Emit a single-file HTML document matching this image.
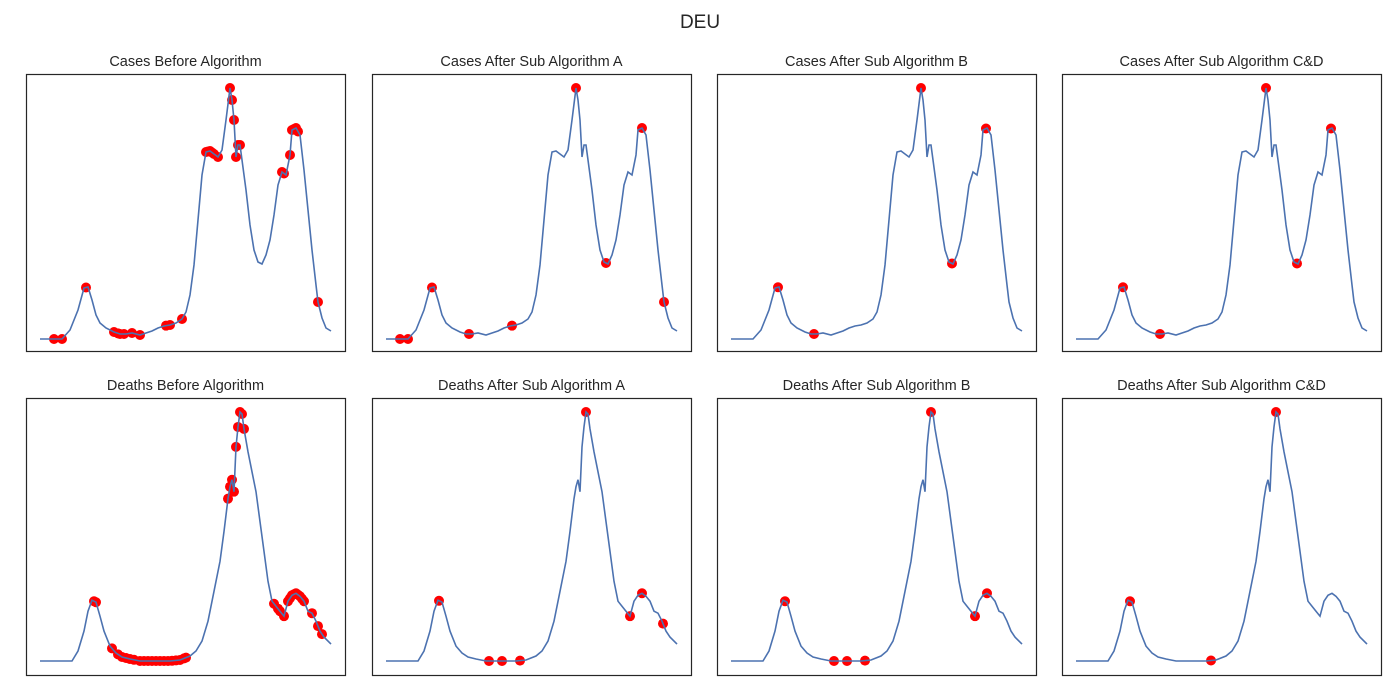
<!DOCTYPE html>
<html><head><meta charset="utf-8"><style>
body{margin:0;background:#fff;}
svg{display:block;font-family:"Liberation Sans",sans-serif;}
</style></head><body>
<svg id="fig" width="1400" height="700">
<text x="700" y="28" text-anchor="middle" font-size="19" fill="#262626">DEU</text>
</svg>
<script>
// Cases series (day index, value)
const casesX=[0,10,22,30,38,44,48,52,56,60,66,74,80,86,92,100,106,112,118,124,130,136,142,146,150,154,158,162,166,170,174,178,182,186,190,192,194,196,198,200,202,206,210,214,218,222,226,230,234,238,242,246,250,252,256,260,264,268,272,276,278,282,286,291];
const casesY=[0,0,0,9,29,51,52,39,24,16,11,7,5,5,6,4,6,8,11,13,14,16,20,27,44,74,119,164,187,188,185,182,189,219,251,239,219,182,194,194,179,149,114,89,77,75,84,99,124,154,167,164,184,209,211,204,169,129,89,54,37,21,11,8];
// Deaths series
const deathsX=[0,20,32,38,44,48,52,56,60,64,70,76,82,90,100,110,120,130,140,150,156,162,168,174,180,184,188,190,192,194,196,198,200,202,204,208,212,216,220,224,228,232,236,240,244,248,252,256,260,264,268,272,276,280,284,291];
const deathsY=[0,0,0,10,30,50,61,59,45,30,15,8,4,2,0,0,0,0,1,5,10,20,40,70,100,130,163,175,182,170,215,235,250,248,233,210,190,170,140,110,80,60,55,50,45,60,66,68,65,60,50,48,40,30,24,17];
const titles=["Cases Before Algorithm","Cases After Sub Algorithm A","Cases After Sub Algorithm B","Cases After Sub Algorithm C&D","Deaths Before Algorithm","Deaths After Sub Algorithm A","Deaths After Sub Algorithm B","Deaths After Sub Algorithm C&D"];
const casesMarks=[
 [14,22,46,74,78,80,84,92,100,126,130,142,166,168,170,172,174,178,190,192,194,196,198,200,242,244,250,252,254,256,258,278],
 [14,22,46,83,126,190,220,256,278],
 [47,83,190,221,255],
 [47,84,190,221,255]];
const deathsMarks=[
 [54,56,72,78,82,86,90,94,100,104,108,112,116,120,124,128,132,136,140,144,146,188,190,192,194,196,198,200,202,204,234,238,240,244,248,250,252,254,256,258,260,262,264,272,278,282],
 [53,103,116,134,200,244,256,277],
 [54,103,116,134,200,244,256],
 [54,135,200]];
const NS="http://www.w3.org/2000/svg";
const svg=document.getElementById('fig');
const colL=[26,372,717,1062], W=319;
const rowT=[74,398], H=277;
function mk(tag,attrs){const e=document.createElementNS(NS,tag);for(const k in attrs)e.setAttribute(k,attrs[k]);return e;}
function interp(xs,ys,x){for(let i=0;i<xs.length-1;i++){if(x>=xs[i]&&x<=xs[i+1]){const t=(x-xs[i])/(xs[i+1]-xs[i]);return ys[i]+t*(ys[i+1]-ys[i]);}}return ys[ys.length-1];}
for(let r=0;r<2;r++)for(let c=0;c<4;c++){
 const xs=r?deathsX:casesX, ys=r?deathsY:casesY, marks=(r?deathsMarks:casesMarks)[c];
 const L=colL[c],T=rowT[r];
 const ymax=Math.max(...ys);
 const bm=r?14:12;
 const sx=v=>L+14+v/291*291, sy=v=>T+H-bm-v/ymax*(H-bm-14);
 const g=mk('g',{});
 
 
 const t=mk('text',{x:L+W/2,y:T-8,'text-anchor':'middle','font-size':'14.5',fill:'#262626'});
 t.textContent=titles[r*4+c];
 
 
 g.appendChild(t);
 for(const m of marks){
  const p=mk('circle',{cx:sx(m),cy:sy(interp(xs,ys,m)),r:5,fill:'#ff0000'});
  
  
  g.appendChild(p);
 }
 let d='';xs.forEach((x,i)=>{d+=(i?'L':'M')+sx(x).toFixed(1)+','+sy(ys[i]).toFixed(1);});
 const pl=mk('path',{d:d,fill:'none',stroke:'#4c72b0','stroke-width':1.6});
 
 
 g.appendChild(pl);
 const fr=mk('rect',{x:L+0.5,y:T+0.5,width:W,height:H,fill:'none',stroke:'#262626','stroke-width':1.2});
 
 
 g.appendChild(fr);
 svg.appendChild(g);
}
</script>
</body></html>
